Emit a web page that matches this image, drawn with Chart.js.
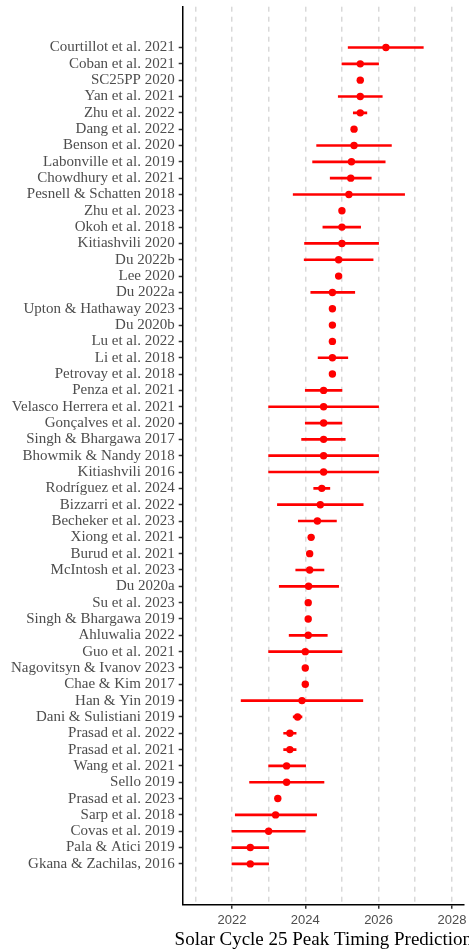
<!DOCTYPE html>
<html><head><meta charset="utf-8">
<script src="https://cdn.jsdelivr.net/npm/chart.js@4/dist/chart.umd.min.js"></script>
<style>html,body{margin:0;padding:0;background:#fff;overflow:hidden}</style>
</head><body>
<canvas id="c" width="469" height="952"></canvas>
<script>
const studies = [
  "Courtillot et al. 2021","Coban et al. 2021","SC25PP 2020","Yan et al. 2021","Zhu et al. 2022",
  "Dang et al. 2022","Benson et al. 2020","Labonville et al. 2019","Chowdhury et al. 2021","Pesnell & Schatten 2018",
  "Zhu et al. 2023","Okoh et al. 2018","Kitiashvili 2020","Du 2022b","Lee 2020",
  "Du 2022a","Upton & Hathaway 2023","Du 2020b","Lu et al. 2022","Li et al. 2018",
  "Petrovay et al. 2018","Penza et al. 2021","Velasco Herrera et al. 2021","Gonçalves et al. 2020","Singh & Bhargawa 2017",
  "Bhowmik & Nandy 2018","Kitiashvili 2016","Rodríguez et al. 2024","Bizzarri et al. 2022","Becheker et al. 2023",
  "Xiong et al. 2021","Burud et al. 2021","McIntosh et al. 2023","Du 2020a","Su et al. 2023",
  "Singh & Bhargawa 2019","Ahluwalia 2022","Guo et al. 2021","Nagovitsyn & Ivanov 2023","Chae & Kim 2017",
  "Han & Yin 2019","Dani & Sulistiani 2019","Prasad et al. 2022","Prasad et al. 2021","Wang et al. 2021",
  "Sello 2019","Prasad et al. 2023","Sarp et al. 2018","Covas et al. 2019","Pala & Atici 2019",
  "Gkana & Zachilas, 2016"
];
const peakYear = [
  2026.2, 2025.5, 2025.5, 2025.5, 2025.5,
  2025.33, 2025.33, 2025.26, 2025.24, 2025.19,
  2025.0, 2025.0, 2025.0, 2024.91, 2024.91,
  2024.74, 2024.74, 2024.74, 2024.74, 2024.74,
  2024.74, 2024.5, 2024.5, 2024.5, 2024.5,
  2024.5, 2024.5, 2024.45, 2024.41, 2024.33,
  2024.16, 2024.12, 2024.12, 2024.09, 2024.08,
  2024.08, 2024.08, 2024.0, 2024.0, 2024.0,
  2023.91, 2023.79, 2023.58, 2023.58, 2023.49,
  2023.49, 2023.25, 2023.19, 2023.0, 2022.5,
  2022.5
];
const lowerYear = [
  2025.17, 2025.0, null, 2024.9, 2025.31,
  null, 2024.31, 2024.2, 2024.68, 2023.67,
  null, 2024.48, 2023.98, 2023.97, null,
  2024.15, null, null, null, 2024.35,
  null, 2024.0, 2023.0, 2024.0, 2023.9,
  2023.0, 2023.0, 2024.23, 2023.24, 2023.81,
  null, null, 2023.74, 2023.29, null,
  null, 2023.56, 2023.0, null, null,
  2022.25, 2023.67, 2023.41, 2023.41, 2023.0,
  2022.48, null, 2022.09, 2022.0, 2022.0,
  2022.0
];
const upperYear = [
  2027.22, 2026.0, null, 2026.1, 2025.68,
  null, 2026.35, 2026.18, 2025.8, 2026.71,
  null, 2025.51, 2026.0, 2025.85, null,
  2025.35, null, null, null, 2025.16,
  null, 2025.0, 2026.0, 2025.0, 2025.09,
  2026.0, 2026.0, 2024.67, 2025.58, 2024.85,
  null, null, 2024.51, 2024.91, null,
  null, 2024.6, 2025.0, null, null,
  2025.57, 2023.91, 2023.75, 2023.75, 2024.01,
  2024.51, null, 2024.31, 2024.0, 2023.0,
  2023.0
];
const gridYears = [2021, 2022, 2023, 2024, 2025, 2026, 2027, 2028];
const labelledYears = [2022, 2024, 2026, 2028];
const xAxisTitle = 'Solar Cycle 25 Peak Timing Prediction';

const serif = "'Liberation Serif', 'Times New Roman', serif";
const sans = "'Liberation Sans', Arial, sans-serif";

const rangeData = [];
studies.forEach((s, i) => {
  if (lowerYear[i] != null) rangeData.push({ y: i, x: [lowerYear[i], upperYear[i]] });
});
const pointData = studies.map((s, i) => ({ x: peakYear[i], y: i }));

// Axis title drawn centred under the panel, allowed to overflow the canvas edge like the original
const axisTitlePlugin = {
  id: 'axisTitle',
  afterDraw(chart) {
    const xs = chart.scales.x;
    const ctx = chart.ctx;
    ctx.save();
    ctx.font = "19px " + serif;
    ctx.fillStyle = '#000';
    ctx.textAlign = 'center';
    ctx.textBaseline = 'alphabetic';
    ctx.fillText(xAxisTitle, (xs.left + xs.right) / 2, 945);
    ctx.restore();
  }
};

new Chart(document.getElementById('c'), {
  type: 'bar',
  data: {
    datasets: [
      { type: 'bar', indexAxis: 'y', data: rangeData, backgroundColor: '#FF0000',
        barThickness: 2, grouped: false, order: 2, borderWidth: 0 },
      { type: 'scatter', data: pointData, pointRadius: 3.7, pointHoverRadius: 3.7,
        backgroundColor: '#FF0000', borderWidth: 0, order: 1 }
    ]
  },
  plugins: [axisTitlePlugin],
  options: {
    responsive: false,
    animation: false,
    devicePixelRatio: 1,
    layout: { padding: { top: 6.7, right: 5, left: 0, bottom: 0 } },
    plugins: { legend: { display: false }, tooltip: { enabled: false } },
    scales: {
      x: {
        type: 'linear', position: 'bottom', bounds: 'data', offset: false,
        min: 2020.656, max: 2028.33,
        afterBuildTicks: s => { s.ticks = gridYears.map(v => ({ value: v })); },
        afterFit: s => { s.height = 47.3; s.paddingLeft = 0; s.paddingRight = 0; },
        ticks: {
          autoSkip: false, maxRotation: 0, padding: 4,
          callback: v => labelledYears.includes(v) ? String(v) : '',
          color: '#4D4D4D', font: { family: sans, size: 13 }
        },
        grid: {
          offset: false,
          color: '#D9D9D9', lineWidth: 1.5, tickLength: 4, tickWidth: 1.5,
          tickColor: c => (c.tick && labelledYears.includes(c.tick.value)) ? '#333333' : 'rgba(0,0,0,0)'
        },
        border: { display: true, color: '#000', width: 1.5, dash: [5, 5] },
        title: { display: false }
      },
      y: {
        type: 'linear', position: 'left', reverse: true, bounds: 'data', offset: false,
        min: -2.5, max: 52.5,
        afterBuildTicks: s => { s.ticks = studies.map((_, i) => ({ value: i })); },
        afterFit: s => { s.width = 182.7; s.paddingTop = 0; s.paddingBottom = 0; },
        ticks: {
          autoSkip: false, padding: 4,
          callback: v => studies[v] ?? '',
          color: '#4D4D4D', font: { family: serif, size: 15 }
        },
        grid: { offset: false, drawOnChartArea: false, tickLength: 4, tickWidth: 1.5, tickColor: '#333333' },
        border: { display: true, color: '#000', width: 1.5 }
      }
    }
  }
});
</script>
</body></html>
